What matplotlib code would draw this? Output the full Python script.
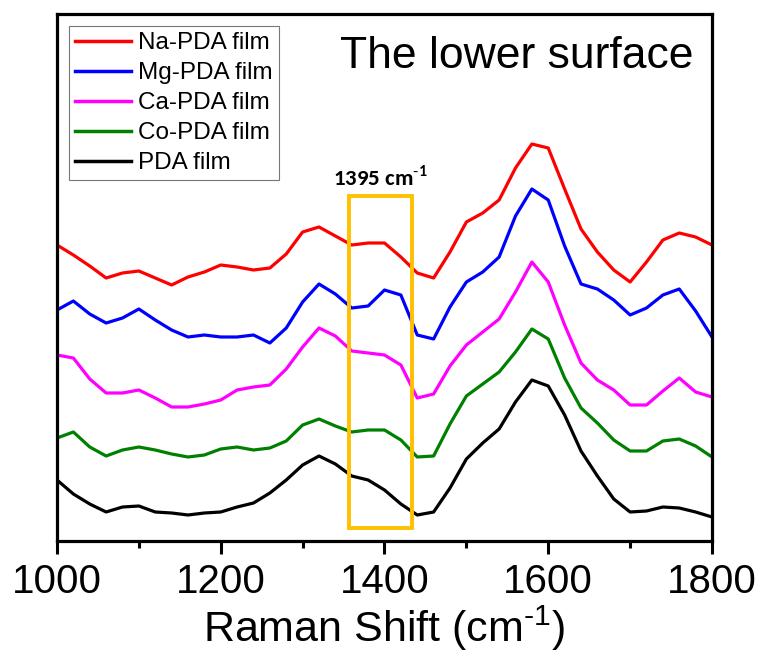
import matplotlib
matplotlib.use("Agg")
import matplotlib.pyplot as plt
from matplotlib import font_manager as fm
from matplotlib.patches import Rectangle

# ---- data ----
raman_shift = list(range(1000, 1801, 20))  # cm-1

na_pda = [296, 286, 275, 263, 268, 270, 263, 256, 264, 269, 276, 274, 271, 273, 287, 309, 314, 305, 296, 298,
          298, 284, 268, 263, 289, 319, 328, 341, 373, 397, 393, 352, 312, 289, 271, 259, 279, 301, 308, 304, 296]
mg_pda = [231, 240, 227, 218, 223, 232, 221, 211, 204, 206, 204, 204, 206, 198, 213, 239, 257, 247, 233, 235,
          251, 246, 206, 202, 234, 259, 269, 284, 325, 352, 341, 295, 257, 252, 241, 226, 233, 246, 252, 230, 204]
ca_pda = [186, 183, 162, 148, 148, 151, 143, 134, 134, 137, 141, 151, 154, 156, 172, 194, 213, 205, 190, 188,
          186, 176, 143, 147, 175, 196, 209, 222, 249, 279, 259, 216, 178, 161, 151, 136, 136, 150, 163, 149, 144]
co_pda = [103, 109, 94, 85, 91, 94, 91, 87, 84, 86, 92, 94, 91, 93, 100, 116, 122, 115, 109, 111,
          111, 101, 84, 85, 117, 145, 157, 169, 189, 212, 202, 163, 133, 118, 101, 90, 90, 100, 102, 95, 84]
pda = [61, 47, 37, 29, 34, 35, 29, 28, 26, 28, 29, 34, 38, 48, 61, 76, 85, 77, 65, 61,
       51, 37, 26, 29, 53, 82, 98, 112, 139, 161, 155, 126, 90, 65, 42, 29, 30, 34, 33, 29, 24]

series_labels = ["Na-PDA film", "Mg-PDA film", "Ca-PDA film", "Co-PDA film", "PDA film"]
series_colors = ["#FF0000", "#0000FF", "#FF00FF", "#008000", "#000000"]

x_ticks = [1000, 1200, 1400, 1600, 1800]
band_range = (1357, 1434)      # highlighted band, cm-1

# ---- fonts ----
available = set(f.name for f in fm.fontManager.ttflist)
main_font = 'Liberation Sans' if 'Liberation Sans' in available else 'DejaVu Sans'
bold_font = next((n for n in ['Carlito', 'Lato', 'Open Sans'] if n in available), 'DejaVu Sans')

plt.rcParams['font.family'] = [main_font, 'DejaVu Sans']
plt.rcParams['mathtext.fontset'] = 'custom'
plt.rcParams['mathtext.rm'] = main_font
plt.rcParams['mathtext.bf'] = bold_font + ':bold'
plt.rcParams['mathtext.default'] = 'rm'

fig = plt.figure(figsize=(7.65, 6.58), dpi=100)
ax = fig.add_axes([57/765, 1-541/658, 655/765, 527/658])

for vals, lab, col in zip([na_pda, mg_pda, ca_pda, co_pda, pda], series_labels, series_colors):
    ax.plot(raman_shift, vals, color=col, lw=2.3, label=lab)

ax.set_xlim(1000, 1800)
ax.set_ylim(0, 527)
ax.set_yticks([])
ax.set_xticks(x_ticks)
ax.set_xticks(range(1100, 1800, 200), minor=True)

ax.tick_params(axis='x', which='major', direction='out', length=9, width=2.2, pad=7, labelsize=29)
ax.tick_params(axis='x', which='minor', direction='out', length=5, width=2.2)
for sp in ax.spines.values():
    sp.set_linewidth(2.3)
    sp.set_color('black')

ax.set_xlabel(r"Raman Shift (cm$^{\text{-}1}$)", fontsize=31, labelpad=2)

# highlighted band
rect = Rectangle((band_range[0], 13), band_range[1]-band_range[0], 332,
                 fill=False, edgecolor='#FFC000', lw=2.8, zorder=5)
ax.add_patch(rect)
ax.text(sum(band_range)/2, 364, r"1395 cm$^{\mathbf{\text{-}1}}$", ha='center', va='center',
        fontsize=16.5, fontweight='bold', family=bold_font)

ax.text(0.9725, 0.8975, "The lower surface", transform=ax.transAxes, ha='right', va='baseline',
        fontsize=32)

leg = ax.legend(loc='upper left', bbox_to_anchor=(0.018, 0.977), borderaxespad=0,
                prop={'size': 17.5}, frameon=True, fancybox=False,
                handlelength=2.3, handletextpad=0.3, labelspacing=0.33, borderpad=0.25)
leg.get_frame().set_edgecolor('#555555')
leg.get_frame().set_linewidth(0.8)
for line in leg.get_lines():
    line.set_linewidth(2.5)

fig.savefig("out.png", dpi=100)
